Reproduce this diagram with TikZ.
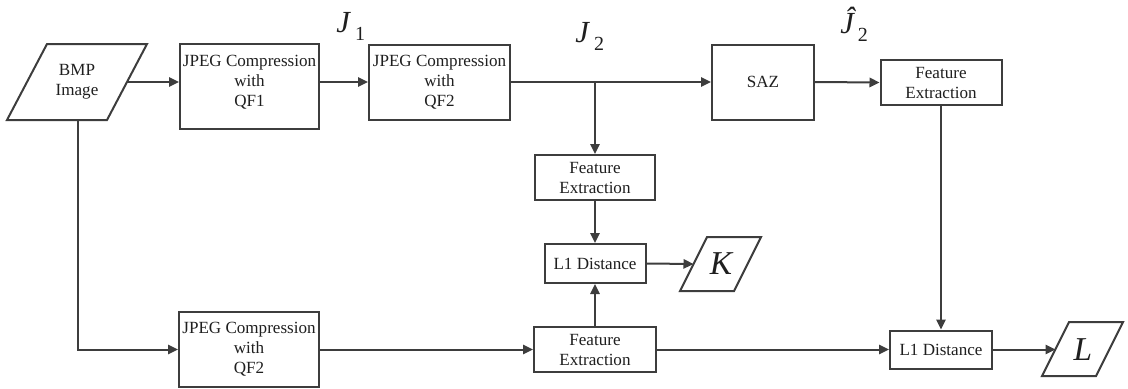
\documentclass[tikz,border=0pt]{standalone}
\usepackage{fontspec}
\setmainfont{Liberation Serif}
\newfontfamily\tnr{Liberation Serif}
\usetikzlibrary{arrows.meta,shadows}
\definecolor{ink}{HTML}{3d3d3d}
\definecolor{txtc}{HTML}{1f1f1f}
\newcommand\boxfont{\tnr\fontsize{12.8}{15}\selectfont}
\newcommand\symfont{\tnr\fontsize{23}{23}\selectfont\itshape}
\newcommand\outfont{\tnr\fontsize{25}{25}\selectfont\itshape}
\newcommand\subfont{\tnr\fontsize{15}{15}\selectfont\upshape}
\tikzset{
  box/.style={draw=ink, line width=1.5pt, fill=white, inner sep=0pt,
              align=center, text=txtc, font=\boxfont,
              drop shadow={opacity=0.18, shadow xshift=0.9pt, shadow yshift=-0.9pt}},
  txt/.style={inner sep=0pt, align=center, text=txtc, font=\boxfont},
  outline/.style={draw=ink, line width=1.5pt, fill=white, line join=miter},
  flow/.style={draw=ink, line width=1.5pt, -{Triangle[length=7.5pt,width=7pt]}},
  sym/.style={inner sep=0pt, anchor=base west, text=txtc},
}
\begin{document}
\begin{tikzpicture}[x=0.75pt,y=-0.75pt]
\useasboundingbox (0,0) rectangle (1128,389);

% input image
\draw[outline] (47,44) -- (147,44) -- (107,120) -- (7,120) -- cycle;
\node[txt] (bmp) at (77,82) {BMP\\Image};
\coordinate (bmpR) at (127,82);
\coordinate (bmpB) at (78,120);

% upper branch: double compression
\node[box, minimum width=104.25pt, minimum height=63.75pt] (qf1) at (249.5,86.5) {};
\node[txt] (qf1t) at (249.5,82) {JPEG Compression\\with\\QF1};
\node[box, minimum width=105.75pt, minimum height=56.25pt] (qf2a) at (439.5,82) {JPEG Compression\\with\\QF2};
\node[box, minimum width=76.5pt, minimum height=56.25pt] (saz) at (763,82) {SAZ};
\node[box, minimum width=90.75pt, minimum height=33.75pt] (fe1) at (941,82.5) {Feature\\Extraction};

% middle column
\node[box, minimum width=90pt, minimum height=33.75pt] (fe2) at (595,177.5) {Feature\\Extraction};
\node[box, minimum width=75.75pt, minimum height=29.25pt] (l1a) at (595,263.5) {L1 Distance};

% lower branch
\node[box, minimum width=105pt, minimum height=56.25pt] (qf2b) at (249,349.5) {JPEG Compression\\with\\QF2};
\node[box, minimum width=91.5pt, minimum height=33.75pt] (fe3) at (595,349.5) {Feature\\Extraction};
\node[box, minimum width=76.5pt, minimum height=28.5pt] (l1b) at (941,349.5) {L1 Distance};

% outputs
\draw[outline] (707,237) -- (761,237) -- (734,291) -- (680,291) -- cycle;
\node[inner sep=0pt, text=txtc, font=\outfont] (K) at (721,264) {K};
\coordinate (kL) at (693.5,264);
\draw[outline] (1069,322) -- (1123,322) -- (1096,376) -- (1042,376) -- cycle;
\node[inner sep=0pt, text=txtc, font=\outfont] (L) at (1083,349.5) {L};
\coordinate (lL) at (1055.5,349.5);

% symbols
\node[sym] (j1) at (336,32) {\symfont J\kern4pt\raisebox{-6pt}{\subfont 1}};
\node[sym] (j2) at (575,42) {\symfont J\kern4pt\raisebox{-6pt}{\subfont 2}};
\node[sym] (j2h) at (840,33) {\symfont \^J\kern3pt\raisebox{-6pt}{\subfont 2}};

% connectors
\coordinate (br) at (fe2.north |- qf2a.east);
\draw[flow] (bmpR) -- (qf1.west |- bmpR);
\draw[flow] (qf1.east |- bmpR) -- (qf2a.west);
\draw[flow] (qf2a.east) -- (saz.west);
\draw[flow] (saz.east) -- (fe1.west);
\draw[flow] (br) -- (fe2.north);
\draw[flow] (fe2.south) -- (l1a.north);
\draw[flow] (l1a.east) -- (kL);
\draw[flow] (bmpB) |- (qf2b.west);
\draw[flow] (qf2b.east) -- (fe3.west);
\draw[flow] (fe3.north) -- (l1a.south);
\draw[flow] (fe3.east) -- (l1b.west);
\draw[flow] (fe1.south) -- (l1b.north);
\draw[flow] (l1b.east) -- (lL);
\end{tikzpicture}
\end{document}
